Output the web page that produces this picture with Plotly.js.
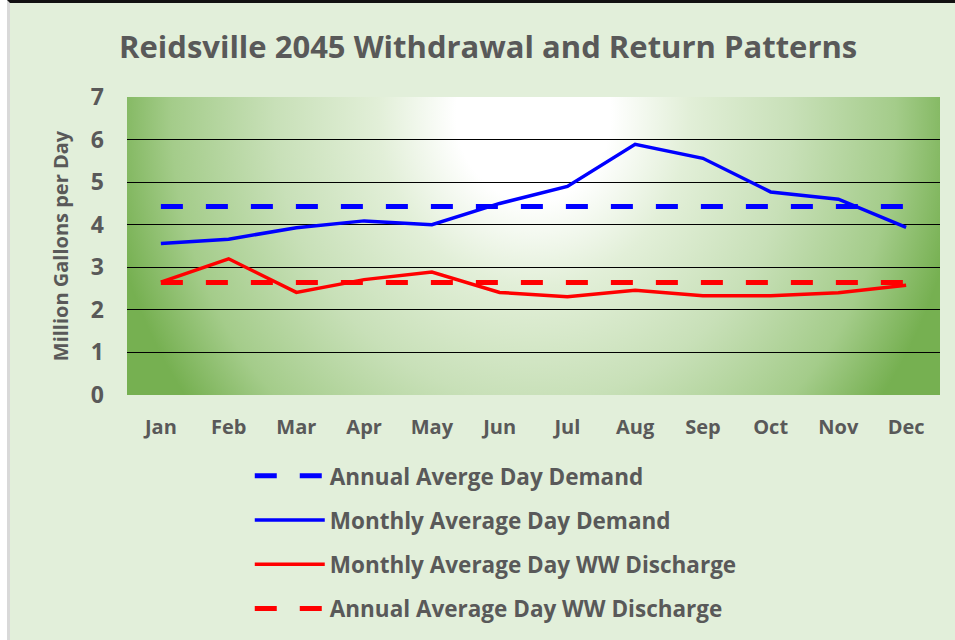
<!DOCTYPE html>
<html>
<head>
<meta charset="utf-8">
<script src="https://cdn.plot.ly/plotly-3.0.1.min.js"></script>
<style>
body { margin: 0; background: #fff; }
#frame { position: absolute; left: 7px; top: 0; width: 948px; height: 640px;
         border-top: 3px solid #111; border-left: 3px solid #d9d9d9;
         box-sizing: border-box; background: #e2efda; }
#plot { width: 945px; height: 637px; }
</style>
</head>
<body>
<div id="frame"><div id="plot"></div></div>
<script>
// values (million gallons per day)
var months = ['Jan', 'Feb', 'Mar', 'Apr', 'May', 'Jun', 'Jul', 'Aug', 'Sep', 'Oct', 'Nov', 'Dec'];
var annualDemand = [4.43, 4.43, 4.43, 4.43, 4.43, 4.43, 4.43, 4.43, 4.43, 4.43, 4.43, 4.43];
var monthlyDemand = [3.56, 3.66, 3.93, 4.09, 4.0, 4.5, 4.9, 5.89, 5.56, 4.77, 4.6, 3.94];
var monthlyDischarge = [2.65, 3.2, 2.41, 2.71, 2.89, 2.41, 2.31, 2.46, 2.33, 2.33, 2.4, 2.58];
var annualDischarge = [2.64, 2.64, 2.64, 2.64, 2.64, 2.64, 2.64, 2.64, 2.64, 2.64, 2.64, 2.64];
var yTicks = [0, 1, 2, 3, 4, 5, 6, 7];

var grey = '#595959';
var font = '"Open Sans", Lato, sans-serif';

// radial white-to-green fill for the plot area, like the Excel gradient
function plotAreaFill(w, h) {
  var c = document.createElement('canvas');
  c.width = w; c.height = h;
  var ctx = c.getContext('2d');
  ctx.fillStyle = '#72ae4a';
  ctx.fillRect(0, 0, w, h);
  var rx = w * 0.53, ry = h * 1.6;
  ctx.save();
  ctx.translate(w * 0.5, h * 0.06);
  ctx.scale(rx / ry, 1);
  var g = ctx.createRadialGradient(0, 0, 0, 0, 0, ry);
  g.addColorStop(0, '#ffffff');
  g.addColorStop(0.18, '#ffffff');
  g.addColorStop(0.36, '#e2efd8');
  g.addColorStop(0.6, '#c8e0b8');
  g.addColorStop(0.84, '#a4cc8a');
  g.addColorStop(1, '#76b051');
  ctx.fillStyle = g;
  ctx.fillRect(-4 * w, -4 * h, 8 * w, 8 * h);
  ctx.restore();
  return c.toDataURL();
}

function series(name, ys, color, width, dash) {
  return {
    x: months, y: ys, type: 'scatter', mode: 'lines', name: name,
    legendgroup: name, hoverinfo: 'none',
    line: {color: color, width: width, dash: dash}
  };
}

var data = [
  series('Annual Averge Day Demand', annualDemand, '#0000ff', 5, '22px,23px'),
  series('Monthly Average Day Demand', monthlyDemand, '#0000ff', 3.5, 'solid'),
  series('Monthly Average Day WW Discharge', monthlyDischarge, '#ff0000', 3.5, 'solid'),
  series('Annual Average Day WW Discharge', annualDischarge, '#ff0000', 5, '22px,23px')
];

var layout = {
  width: 945, height: 637,
  margin: {l: 117, r: 15, t: 94, b: 245, autoexpand: false},
  paper_bgcolor: '#e2efda',
  plot_bgcolor: 'rgba(0,0,0,0)',
  font: {family: font, color: grey},
  title: {
    text: 'Reidsville 2045 Withdrawal and Return Patterns',
    font: {family: font, size: 31, color: grey, weight: 'bold'},
    xref: 'container', x: 0.506, xanchor: 'center',
    yref: 'container', y: 0.93, yanchor: 'middle'
  },
  xaxis: {
    type: 'category', range: [-0.5, 11.5],
    showgrid: false, zeroline: false, showline: false, ticks: '',
    ticklabelstandoff: 18,
    tickfont: {family: font, size: 20, color: grey, weight: 'bold'}
  },
  yaxis: {
    range: [0, 7], tickvals: yTicks,
    showgrid: true, gridcolor: '#000', gridwidth: 1,
    zeroline: false, showline: false, ticks: '',
    ticklabelstandoff: 22,
    tickfont: {family: font, size: 23, color: grey, weight: 'bold'},
    title: {text: 'Million Gallons per Day', standoff: 16,
            font: {family: font, size: 20, color: grey, weight: 'bold'}}
  },
  showlegend: true,
  legend: {
    orientation: 'v', x: 0.151, xanchor: 'left', y: -0.2, yanchor: 'top',
    bgcolor: 'rgba(0,0,0,0)', itemwidth: 70, tracegroupgap: 12,
    font: {family: font, size: 22.5, color: grey, weight: 'bold'}
  },
  images: [{
    source: plotAreaFill(813, 298),
    xref: 'paper', yref: 'paper', x: 0, y: 1, sizex: 1, sizey: 1,
    xanchor: 'left', yanchor: 'top', sizing: 'stretch', layer: 'below'
  }]
};

Plotly.newPlot('plot', data, layout, {displayModeBar: false, staticPlot: true});
</script>
</body>
</html>
